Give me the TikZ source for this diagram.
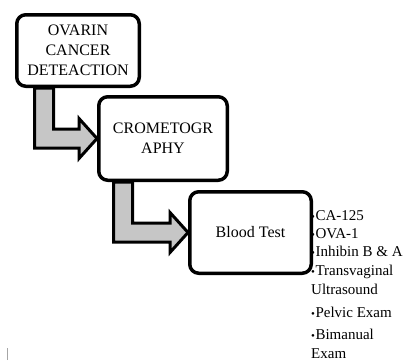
\documentclass[tikz,border=0pt]{standalone}
\usepackage{fontspec}
\setmainfont{Liberation Serif}
\usetikzlibrary{calc}
\tikzset{stage/.style={draw, line width=3.5pt, rounded corners=9pt, fill=white, align=center, inner sep=2pt, font=\fontsize{16}{20}\selectfont}}
\tikzset{bentshape/.style={draw, line width=3pt, fill=gray!45, line join=miter}}
\tikzset{item/.style={anchor=base west, align=left, inner sep=0pt, font=\fontsize{15}{19}\selectfont}}
\newcommand{\dotb}{{\fontsize{11}{11}\selectfont •}\hspace{0.5pt}}
\newcommand{\bentarrow}[3]{%
\draw[bentshape] let \p1=($(#1.south west)+(#3,0)$), \p2=(#2) in
 (\x1-9.5pt,\y1) -- (\x1-9.5pt,\y2-9.5pt) -- (\x2-18pt,\y2-9.5pt) -- (\x2-18pt,\y2-20pt)
 -- (\x2,\y2) -- (\x2-18pt,\y2+20pt) -- (\x2-18pt,\y2+9.5pt) -- (\x1+9.5pt,\y2+9.5pt)
 -- (\x1+9.5pt,\y1) -- cycle;}

\begin{document}
\begin{tikzpicture}[x=1pt, y=1pt]
\useasboundingbox (0,0) rectangle (410,360);
\node[stage, minimum width=122.5pt, minimum height=71.5pt] (detect) at (78,309.5) {OVARIN\\CANCER\\DETEACTION};
\node[stage, minimum width=128.5pt, minimum height=83.5pt] (chrom) at (163,221.5) {CROMETOGR\\APHY};
\node[stage, minimum width=121.5pt, minimum height=81.5pt] (blood) at (250.5,127.5) {Blood Test};
\bentarrow{detect}{chrom.west}{29}
\bentarrow{chrom}{blood.west}{26}
\node[item] (ca) at (311,140) {\dotb CA-125};
\node[item] (ova) at (311,122) {\dotb OVA-1};
\node[item] (inh) at (311,104) {\dotb Inhibin B \& A};
\node[item] (tvu) at (311,66) {\dotb Transvaginal\\Ultrasound};
\node[item] (pel) at (311,43) {\dotb Pelvic Exam};
\node[item] (bim) at (311,2) {\dotb Bimanual\\Exam};
\draw[gray!70, line width=1.2pt] (7.5,0) -- (7.5,12);
\end{tikzpicture}
\end{document}
